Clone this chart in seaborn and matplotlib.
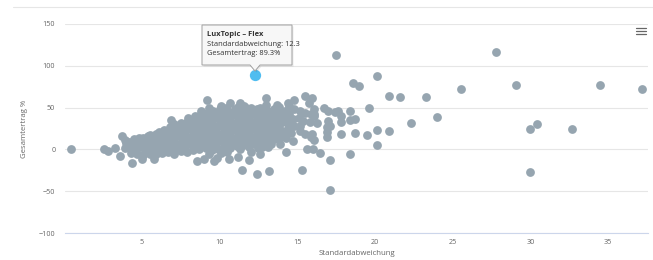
import pandas as pd
import seaborn as sns
import matplotlib.pyplot as plt
from matplotlib.lines import Line2D
from matplotlib.patches import Polygon

# Fund scatter: (Standardabweichung, Gesamtertrag %)
core_points = [
    (3.9, 2), (4.0, 8), (3.7, 16), (3.9, 11), (3.6, -8),
    (4.3, -4), (4.35, -16), (4.4, 3), (4.2, 9), (4.5, 13),
    (4.7, -6), (4.6, 1), (4.8, 7), (4.6, 11), (4.8, 14),
    (5.0, -11), (5.1, -7), (5.2, -1), (5.0, 5), (5.2, 11), (5.4, 16), (5.1, 14),
    (5.5, -5), (5.6, 1), (5.4, 7), (5.6, 12), (5.5, 17),
    (5.8, -11), (5.9, -6), (6.0, 0), (5.8, 6), (6.0, 12), (5.9, 18),
    (6.3, -4), (6.2, 2), (6.4, 8), (6.3, 14), (6.2, 19), (6.4, 23),
    (6.7, -3), (6.6, 3), (6.8, 9), (6.7, 15), (6.6, 21), (6.86, 35), (6.8, 27),
    (7.1, -5), (7.0, 1), (7.2, 7), (7.1, 13), (7.0, 19), (7.2, 25), (7.1, 30),
    (7.5, -2), (7.4, 4), (7.6, 10), (7.5, 16), (7.4, 22), (7.6, 28), (7.5, 32),
    (7.9, -3), (7.8, 3), (8.0, 9), (7.9, 15), (7.8, 21), (8.0, 27), (7.9, 33), (8.0, 37),
    (8.3, -1), (8.2, 5), (8.4, 11), (8.3, 17), (8.2, 23), (8.4, 29), (8.3, 35), (8.4, 40),
    (8.57, -14), (8.7, 0), (8.6, 6), (8.8, 12), (8.7, 18), (8.6, 24), (8.8, 30),
    (8.7, 36), (8.8, 42), (8.8, 46),
    (9.0, -11), (9.1, 2), (9.0, 8), (9.2, 14), (9.1, 20), (9.0, 26), (9.2, 32),
    (9.1, 38), (9.2, 44), (9.2, 59),
    (9.64, -14), (9.5, -1), (9.4, 5), (9.6, 11), (9.5, 17), (9.4, 23), (9.6, 29),
    (9.5, 35), (9.4, 41), (9.6, 46),
    (9.86, -10), (9.9, 1), (9.8, 7), (10.0, 13), (9.9, 19), (9.8, 25), (10.0, 31),
    (9.9, 37), (9.96, 44), (10.0, 48),
    (10.3, 3), (10.2, 9), (10.4, 15), (10.3, 21), (10.2, 27), (10.4, 33), (10.3, 39),
    (10.2, 45), (10.4, 50),
    (10.6, -11), (10.5, -3), (10.7, 2), (10.6, 8), (10.8, 14), (10.7, 20), (10.6, 26),
    (10.8, 32), (10.7, 38), (10.6, 44), (10.65, 55),
    (11.2, -9), (11.1, 4), (11.0, 10), (11.2, 16), (11.1, 22), (11.0, 28), (11.2, 34),
    (11.1, 40), (11.0, 48), (11.2, 51),
    (11.46, -25), (11.5, 5), (11.4, 11), (11.6, 17), (11.5, 23), (11.4, 29), (11.6, 35),
    (11.5, 41), (11.4, 47), (11.6, 52),
    (11.9, -13), (12.0, -3), (11.9, 3), (11.8, 9), (12.0, 15), (11.9, 21), (11.8, 27),
    (12.0, 33), (11.9, 39), (11.8, 45), (12.0, 50),
    (12.4, -30), (12.3, 6), (12.2, 12), (12.4, 18), (12.3, 24), (12.2, 30), (12.4, 36),
    (12.3, 42), (12.4, 48),
    (12.6, -5), (12.75, 3), (12.7, 8), (12.6, 14), (12.8, 20), (12.7, 26), (12.6, 32),
    (12.8, 38), (12.7, 44), (12.6, 50),
    (13.1, 3), (13.1, 10), (13.0, 16), (13.2, 22), (13.1, 28), (13.0, 34), (13.2, 40),
    (13.1, 46), (13.0, 53), (13.0, 62),
    (13.5, 12), (13.4, 18), (13.6, 24), (13.5, 30), (13.4, 36), (13.6, 42), (13.5, 48),
    (13.2, -26),
    (13.9, 7), (13.9, 15), (13.8, 27), (14.0, 33), (13.9, 39), (14.0, 45), (13.8, 51),
    (13.7, 21),
    (14.25, -3), (14.3, 14), (14.2, 22), (14.4, 30), (14.3, 38), (14.2, 46), (14.4, 55),
    (14.7, 10), (14.6, 20), (14.8, 28), (14.7, 36), (14.8, 48), (14.8, 59.5), (14.5, 52),
]

# extra funds sitting between the columns above (the dense middle of the cloud)
core_fill = [
    (4.9, 3), (5.3, 9), (5.7, 4), (5.7, 15), (6.1, 9), (6.1, 21), (6.5, 5), (6.5, 17),
    (6.9, 11), (6.9, 23), (7.3, 1), (7.3, 17), (7.3, 28), (7.7, 7), (7.7, 25),
    (8.1, 13), (8.1, 31), (8.5, 2), (8.5, 21), (8.5, 38), (8.9, 9), (8.9, 27),
    (9.3, -5), (9.3, 17), (9.3, 35), (9.3, 50), (9.7, 5), (9.7, 26), (9.7, 42),
    (10.1, -4), (10.1, 16), (10.1, 35), (10.1, 52), (10.5, 11), (10.5, 30), (10.5, 47),
    (10.9, 6), (10.9, 24), (10.9, 43), (11.3, 0), (11.3, 19), (11.3, 37), (11.3, 55),
    (11.7, 13), (11.7, 31), (11.7, 49), (12.1, 8), (12.1, 26), (12.1, 44), (12.5, 2),
    (12.5, 21), (12.5, 39), (12.9, 13), (12.9, 31), (12.9, 50), (13.3, 7), (13.3, 26),
    (13.3, 44), (13.7, 33), (13.7, 53), (14.1, 18), (14.1, 41), (14.5, 26), (14.5, 42),
]

tail_points = [
    (0.45, 0), (2.6, 1), (2.8, -2.5), (3.26, 2),
    (15.2, 46), (15.5, 44), (15.9, 42.5), (16.1, 42), (15.5, 64), (15.95, 62),
    (15.75, 56), (15.4, 34.5), (15.85, 32.5), (16.3, 31), (15.2, 22.6), (15.5, 18.7),
    (15.95, 18.7), (15.6, 1), (16.0, 1), (16.1, 11), (15.9, 15), (15.3, -25),
    (15.1, 38), (15.2, 28),
    (16.7, 50), (17.0, 46), (17.6, 46), (17.4, 45), (18.4, 46), (18.7, 36), (18.4, 35),
    (19.6, 49), (17.0, 34.5), (17.1, 28.5), (17.8, 40), (17.8, 33), (16.9, 20.6),
    (16.9, 14.6), (16.9, 26.5), (16.1, 48), (16.1, 40), (17.8, 18), (18.7, 20),
    (19.5, 17), (16.45, -4), (17.1, -13), (18.4, -5), (17.1, -49),
    (17.46, 113), (27.8, 116), (20.1, 88), (18.6, 80), (19.0, 76), (20.9, 64),
    (21.6, 63), (23.3, 63), (25.5, 72), (29.1, 76.5), (34.5, 77), (37.2, 72.6),
    (22.3, 32), (24.0, 39), (30.0, 25), (30.4, 30), (32.7, 24), (30.0, -26.5),
    (20.1, 23), (20.9, 22), (20.1, 5),
]

hover_name = "LuxTopic – Flex"
hover_point = (12.3, 89.3)

df = pd.DataFrame(core_points + core_fill + tail_points,
                  columns=["Standardabweichung", "Gesamtertrag"])

sns.set_style("white")
plt.rcParams['font.family'] = ['Open Sans', 'DejaVu Sans']

W, H = 653, 260
fig = plt.figure(figsize=(W / 100, H / 100), dpi=100)
ax = fig.add_axes([65 / W, 1 - 233 / H, (648 - 65) / W, (233 - 24) / H])


def px(x, y):
    return (x / W, 1 - y / H)


sns.scatterplot(data=df, x="Standardabweichung", y="Gesamtertrag", color="#96a5b0",
                s=40, linewidth=0, ax=ax, zorder=3)
sns.scatterplot(x=[hover_point[0]], y=[hover_point[1]], color="#4fbdf0", s=66,
                linewidth=0, ax=ax, zorder=4)

ax.set_xlim(0.06, 37.56)
ax.set_ylim(-100, 150)
ax.set_xticks(range(5, 36, 5))
ax.set_yticks(range(-100, 151, 50))
ax.grid(axis='y', color='#e6e6e6', linewidth=0.8)
ax.grid(axis='x', visible=False)
for side in ['top', 'right', 'left']:
    ax.spines[side].set_visible(False)
ax.spines['bottom'].set_color('#ccd6eb')
ax.spines['bottom'].set_linewidth(0.8)
ax.tick_params(axis='both', length=0, labelsize=5.2, colors='#666666')
ax.tick_params(axis='x', pad=4.5)
ax.tick_params(axis='y', pad=7)
ax.set_xlabel("Standardabweichung", fontsize=5.6, color='#666666', labelpad=3)
ax.set_ylabel("Gesamtertrag %", fontsize=5.6, color='#666666', labelpad=8)

# page separator and menu icon
fig.add_artist(Line2D([13 / W, 1], [1 - 7 / H] * 2, color='#e6e6e6', lw=0.8))
for yy in (28.3, 31, 33.7):
    fig.add_artist(Line2D([636 / W, 646 / W], [1 - yy / H] * 2, color='#666666', lw=0.9))

# tooltip
verts = [(202, 25), (292, 25), (292, 65), (260, 65), (255, 71), (250, 65), (202, 65)]
shadow = Polygon([px(x + 1.5, y + 1.5) for x, y in verts], closed=True,
                 transform=fig.transFigure, facecolor='#000000', alpha=0.08, edgecolor='none')
fig.add_artist(shadow)
box = Polygon([px(x, y) for x, y in verts], closed=True, transform=fig.transFigure,
              facecolor='#f7f7f7', edgecolor='#a0a0a0', lw=0.7)
fig.add_artist(box)
fig.text(*px(207, 35), hover_name, fontsize=5.4, fontweight='bold', color='#333333', va='center')
fig.text(*px(207, 44.5), f"Standardabweichung: {hover_point[0]}", fontsize=5.4,
         color='#333333', va='center')
fig.text(*px(207, 53.5), f"Gesamtertrag: {hover_point[1]}%", fontsize=5.4,
         color='#333333', va='center')

fig.savefig("out.png", dpi=100)
